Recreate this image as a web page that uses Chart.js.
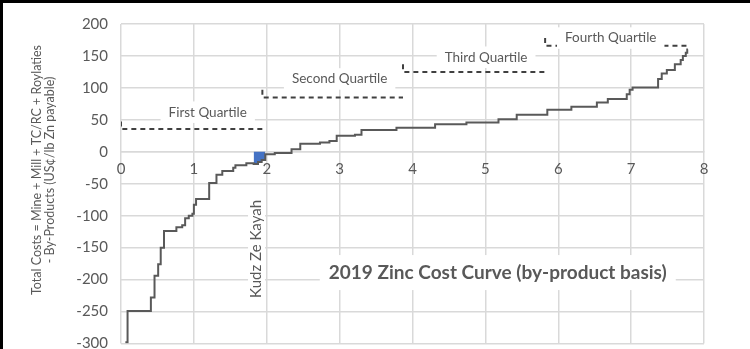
<!DOCTYPE html>
<html>
<head>
<meta charset="utf-8">
<script src="https://cdn.jsdelivr.net/npm/chart.js@4.4.1/dist/chart.umd.min.js"></script>
<style>
  html, body { margin: 0; padding: 0; background: #fff; }
  #wrap { width: 750px; height: 349px; }
</style>
</head>
<body>
<div id="wrap"><canvas id="costCurve" width="750" height="349"></canvas></div>
<script>
// 2019 zinc cost curve – cumulative production (x) vs by-product cost (y)
// each step starts at stepX[i] with cost stepCost[i]; last point closes the curve
const stepX =    [0.06, 0.09, 0.41, 0.46, 0.51, 0.545, 0.59, 0.76, 0.84, 0.88, 0.93, 0.98, 1.00, 1.03, 1.21, 1.31, 1.39, 1.54, 1.57, 1.72, 1.82, 1.88, 1.93, 1.98, 2.11, 2.34, 2.46, 2.73, 2.86, 2.96, 3.21, 3.30, 3.78, 4.31, 4.74, 5.18, 5.43, 5.85, 6.18, 6.53, 6.68, 6.94, 6.98, 7.02, 7.37, 7.42, 7.49, 7.60, 7.68, 7.71, 7.75, 7.77, 7.78];
const stepCost = [-298, -249, -228, -194, -176, -150, -124, -118, -115, -104, -100, -97, -83, -74, -49, -36, -30, -25, -21, -18, -19, -16, -13, -4, -2, 4, 12.5, 14.5, 17, 25, 26.5, 34, 37.6, 43, 46, 51, 58, 66, 70.5, 77, 82.5, 90, 97, 100.6, 114, 122.5, 128, 137, 143.5, 150, 155, 160, 160];

// Kudz Ze Kayah highlighted block
const kzkX =    [1.82, 1.88, 1.93, 1.98];
const kzkCost = [-19, -16, -13, -13];

// quartile markers
const quartileNames = ['First Quartile', 'Second Quartile', 'Third Quartile', 'Fourth Quartile'];
const quartileFrom  = [0, 1.94, 3.87, 5.82];
const quartileTo    = [1.94, 3.87, 5.82, 7.76];
const quartileLevel = [35.5, 85, 125, 166];
const quartileLabelX = [1.19, 3.0, 5.01, 6.72];
const quartileLabelY = [62, 114, 148, 178];

const xTicks = { min: 0, max: 8, step: 1 };
const yTicks = { min: -300, max: 200, step: 50 };

const chartTitle = '2019 Zinc Cost Curve (by-product basis)';
const titleAt = { x: 5.17, y: -189 };
const projectName = 'Kudz Ze Kayah';
const projectAt = { x: 1.86, y: -152 };
const yTitle = ['Total Costs = Mine + Mill + TC/RC + Roylaties', '- By-Products (US\u00a2/lb Zn payable)'];

const GREY = '#595959';
const GRID = '#d9d9d9';
const FONT = 'Lato';

const curvePts = stepX.map((x, i) => ({ x, y: stepCost[i] }));
const kzkPts = kzkX.map((x, i) => ({ x, y: kzkCost[i] }));

const quartileSets = quartileNames.map((name, i) => ({
  label: name,
  data: [
    { x: quartileFrom[i], y: quartileLevel[i] + 12 },
    { x: quartileFrom[i], y: quartileLevel[i] },
    { x: quartileTo[i], y: quartileLevel[i] }
  ],
  borderColor: '#404040', borderWidth: 2, borderDash: [5, 4],
  pointRadius: 0, fill: false, tension: 0, order: 3
}));

function labelBox(ctx, text, cx, cy, font, padX, padY) {
  ctx.font = font;
  const w = ctx.measureText(text).width;
  const h = parseFloat(font.match(/(\d+(\.\d+)?)px/)[1]);
  ctx.fillStyle = '#fff';
  ctx.fillRect(cx - w / 2 - padX, cy - h / 2 - padY, w + padX * 2, h + padY * 2);
  ctx.fillStyle = GREY;
  ctx.textAlign = 'center';
  ctx.textBaseline = 'middle';
  ctx.fillText(text, cx, cy);
}

const decorations = {
  id: 'decorations',
  beforeDraw(chart) {
    const ctx = chart.ctx;
    ctx.save();
    ctx.fillStyle = '#fff';
    ctx.fillRect(0, 0, chart.width, chart.height);
    ctx.restore();
  },
  afterDatasetsDraw(chart) {
    const { ctx, scales: { x, y } } = chart;
    ctx.save();
    quartileNames.forEach((name, i) => {
      labelBox(ctx, name, x.getPixelForValue(quartileLabelX[i]), y.getPixelForValue(quartileLabelY[i]),
        '13.5px ' + FONT, 8, 4);
    });
    labelBox(ctx, chartTitle, x.getPixelForValue(titleAt.x), y.getPixelForValue(titleAt.y),
      'bold 19px ' + FONT, 9, 8);

    // project name, rotated
    ctx.save();
    ctx.translate(x.getPixelForValue(projectAt.x), y.getPixelForValue(projectAt.y));
    ctx.rotate(-Math.PI / 2);
    labelBox(ctx, projectName, 0, 0, '15px ' + FONT, 2, 1);
    ctx.restore();

    // y axis title, two lines
    ctx.save();
    ctx.translate(43, 170);
    ctx.rotate(-Math.PI / 2);
    ctx.font = '12.5px ' + FONT;
    ctx.fillStyle = GREY;
    ctx.textAlign = 'center';
    ctx.textBaseline = 'middle';
    ctx.fillText(yTitle[0], 0, -6.5);
    ctx.fillText(yTitle[1], 0, 7);
    ctx.restore();

    // frame edge on top and left
    ctx.fillStyle = '#000';
    ctx.fillRect(0, 0, chart.width, 3);
    ctx.fillRect(0, 0, 3, chart.height);
    ctx.restore();
  }
};

new Chart(document.getElementById('costCurve'), {
  type: 'line',
  data: {
    datasets: [
      {
        label: 'Cost curve', data: curvePts, stepped: 'before',
        borderColor: GREY, borderWidth: 2, pointRadius: 0, fill: false, order: 1
      },
      {
        label: projectName, data: kzkPts, stepped: 'before',
        borderColor: '#2f5597', borderWidth: 1, backgroundColor: '#4472c4',
        pointRadius: 0, fill: 'origin', order: 2
      },
      ...quartileSets
    ]
  },
  options: {
    responsive: false,
    animation: false,
    layout: { padding: { top: 24, right: 46, bottom: 5.5, left: 0 } },
    plugins: { legend: { display: false }, tooltip: { enabled: false } },
    scales: {
      x: {
        type: 'linear', position: { y: 0 },
        min: xTicks.min, max: xTicks.max,
        ticks: { stepSize: xTicks.step, color: GREY, font: { family: FONT, size: 15 }, padding: 8 },
        grid: { color: GRID, lineWidth: 1.5, drawTicks: false },
        border: { color: GRID, width: 1.5 }
      },
      y: {
        min: yTicks.min, max: yTicks.max,
        ticks: { stepSize: yTicks.step, color: GREY, font: { family: FONT, size: 15 }, padding: 13 },
        grid: { color: GRID, lineWidth: 1.5, drawTicks: false },
        border: { display: false },
        afterFit(scale) { scale.width = 121; scale.paddingTop = 0; scale.paddingBottom = 0; }
      }
    }
  },
  plugins: [decorations]
});
</script>
</body>
</html>
